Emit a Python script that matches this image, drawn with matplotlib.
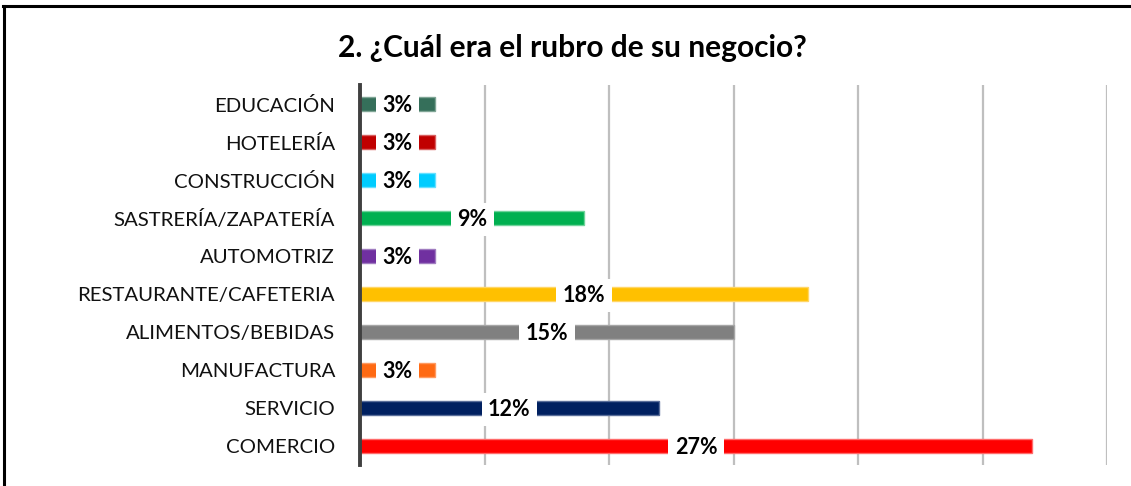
import matplotlib
matplotlib.use("Agg")
import matplotlib.pyplot as plt
from matplotlib.lines import Line2D

categories = ["COMERCIO", "SERVICIO", "MANUFACTURA", "ALIMENTOS/BEBIDAS",
              "RESTAURANTE/CAFETERIA", "AUTOMOTRIZ", "SASTRERÍA/ZAPATERÍA",
              "CONSTRUCCIÓN", "HOTELERÍA", "EDUCACIÓN"]
values = [27, 12, 3, 15, 18, 3, 9, 3, 3, 3]
labels = ["27%", "12%", "3%", "15%", "18%", "3%", "9%", "3%", "3%", "3%"]
colors = ["#FF0000", "#002060", "#FF6A13", "#808080", "#FFC000",
          "#7030A0", "#00B050", "#00CCFF", "#C00000", "#356F5A"]
edgecolors = ["#FF6B6B", "#5A6E9A", "#FF9A60", "#A6A6A6", "#FFD666",
              "#A07CC0", "#6FD39A", "#66E0FF", "#D86060", "#7FA595"]
title = "2. ¿Cuál era el rubro de su negocio?"

W, H = 1131, 486
fig = plt.figure(figsize=(W / 100, H / 100), dpi=100)
plt.rcParams['font.family'] = ['Lato', 'DejaVu Sans']

ax = fig.add_axes([360 / W, 1 - 465 / H, (1107 - 360) / W, (465 - 85) / H])
y = list(range(len(categories)))
ax.barh(y, values, height=0.38, color=colors, edgecolor=edgecolors,
        linewidth=1.0, zorder=3)

for yi, v, lab in zip(y, values, labels):
    ax.text(v / 2, yi - 0.04, lab, ha="center", va="center", fontsize=15.5,
            fontweight="bold", color="black", zorder=5,
            bbox=dict(boxstyle="square,pad=0.3", fc="white", ec="none"))

ax.set_xlim(0, 30)
ax.set_ylim(-0.5, len(categories) - 0.5)
ax.set_xticks([0, 5, 10, 15, 20, 25, 30])
ax.set_xticklabels([])
ax.tick_params(axis="x", length=0)
ax.set_yticks(y)
ax.set_yticklabels(categories, fontsize=14.7, color="#111111")
ax.tick_params(axis="y", length=0, pad=18)
ax.grid(axis="x", color="#BFBFBF", linewidth=1.6, zorder=0)
for s in ["top", "right", "bottom"]:
    ax.spines[s].set_visible(False)
ax.spines["left"].set_color("#404040")
ax.spines["left"].set_linewidth(2.8)
ax.spines["left"].set_zorder(4)

fig.text(572 / W, 1 - 48 / H, title, ha="center", va="center",
         fontsize=21.5, fontweight="bold", color="black")

# outer frame
fig.add_artist(Line2D([3 / W, 1.0], [1 - 6 / H, 1 - 6 / H], color="black",
                      linewidth=2.2, transform=fig.transFigure))
fig.add_artist(Line2D([4 / W, 4 / W], [0.0, 1 - 6 / H], color="black",
                      linewidth=2.2, transform=fig.transFigure))

fig.savefig("out.png", dpi=100)
